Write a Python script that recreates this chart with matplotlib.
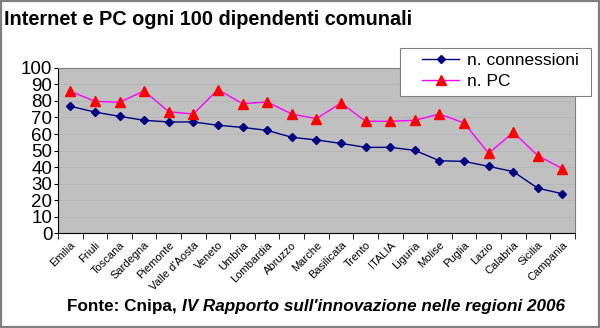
import matplotlib
matplotlib.use('Agg')
import matplotlib.pyplot as plt
from matplotlib.patches import Rectangle
import numpy as np

plt.rcParams['font.family'] = ['Liberation Sans', 'DejaVu Sans']

regioni = ['Emilia', 'Friuli', 'Toscana', 'Sardegna', 'Piemonte',
           "Valle d'Aosta", 'Veneto', 'Umbria', 'Lombardia', 'Abruzzo',
           'Marche', 'Basilicata', 'Trento', 'ITALIA', 'Liguria', 'Molise',
           'Puglia', 'Lazio', 'Calabria', 'Sicilia', 'Campania']
connessioni = [76.8, 73.3, 70.7, 68.3, 67.3, 67.3, 65.3, 64.0, 62.2, 58.0,
               56.4, 54.3, 51.9, 51.9, 50.1, 43.8, 43.4, 40.4, 37.2, 27.1,
               23.8]
pc = [85.9, 79.8, 79.2, 86.1, 73.5, 72.1, 86.9, 78.4, 79.4, 72.1,
      69.3, 78.8, 67.7, 67.7, 68.3, 72.1, 66.7, 48.3, 61.0, 46.9, 39.0]
y_ticks = list(range(0, 101, 10))

W, H = 600, 328
fig = plt.figure(figsize=(W / 100, H / 100), dpi=100)
fig.patch.set_facecolor('white')
fig.add_artist(Rectangle((0.002, 0.003), 0.996, 0.994, transform=fig.transFigure,
                         fill=False, edgecolor='#7f7f7f', lw=1.6))

ax = fig.add_axes([0.0967, 0.2896, 0.8613, 0.5031])
ax.set_facecolor('#c0c0c0')
x = np.arange(len(regioni))

ax.plot(x, connessioni, color='#000080', lw=1.0, marker='D', ms=4.5,
        label='n. connessioni')
ax.plot(x, pc, color='#ff00ff', lw=1.0, marker='^', ms=7,
        markerfacecolor='#ff0000', markeredgecolor='#ff0000', label='n. PC')

ax.set_xlim(-0.5, len(regioni) - 0.5)
ax.set_ylim(0, 100)
ax.set_yticks(y_ticks)
ax.tick_params(axis='y', labelsize=13.5, length=3, pad=1)
ax.yaxis.grid(True, color='#b6b6b6', lw=0.8)
ax.set_axisbelow(True)

ax.set_xticks(x)
ax.set_xticklabels(regioni, rotation=45, ha='right', rotation_mode='anchor',
                   fontsize=8)
ax.tick_params(axis='x', which='major', length=0, pad=5)
ax.set_xticks(np.arange(len(regioni) + 1) - 0.5, minor=True)
ax.tick_params(axis='x', which='minor', length=4)

for s in ['top', 'right']:
    ax.spines[s].set_color('#808080')
for s in ['left', 'bottom']:
    ax.spines[s].set_color('black')

# legend box (wider than the plot, as in the original)
fig.add_artist(Rectangle((400 / W, 1 - 96 / H), 191 / W, 48 / H,
                         transform=fig.transFigure, facecolor='white',
                         edgecolor='#808080', lw=0.8, zorder=5))
leg = fig.legend(loc='upper left', bbox_to_anchor=(419 / W, 1 - 49 / H),
                 borderaxespad=0, fontsize=12.5, frameon=False,
                 borderpad=0.2, handlelength=2.1, handletextpad=0.45,
                 labelspacing=0.35)
leg.set_zorder(6)

fig.text(0.006, 0.94, 'Internet e PC ogni 100 dipendenti comunali',
         fontsize=14.3, fontweight='bold', va='center', ha='left')

t1 = fig.text(0.112, 0.065, 'Fonte: Cnipa, ', fontsize=12.3, fontweight='bold',
              va='center', ha='left')
fig.canvas.draw()
bb = t1.get_window_extent()
x2 = bb.x1 / fig.bbox.width
fig.text(x2, 0.065, "IV Rapporto sull'innovazione nelle regioni 2006",
         fontsize=12.3, fontweight='bold', style='italic', va='center', ha='left')

fig.savefig('out.png', dpi=100, facecolor='white')
